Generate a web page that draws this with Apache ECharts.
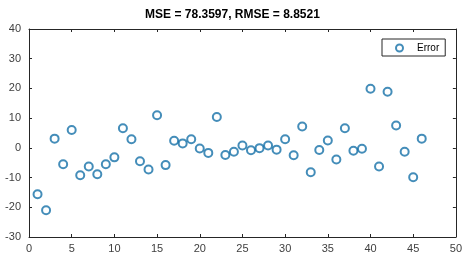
<!DOCTYPE html>
<html>
<head>
<meta charset="utf-8">
<script src="https://cdn.jsdelivr.net/npm/echarts@6/dist/echarts.min.js"></script>
<style>
  html, body { margin: 0; padding: 0; background: #fff; }
  #chart { width: 465px; height: 257px; }
</style>
</head>
<body>
<div id="chart"></div>
<script>
// sample index and error values
const sampleIdx = [1, 2, 3, 4, 5, 6, 7, 8, 9, 10, 11, 12, 13, 14, 15, 16, 17, 18, 19, 20, 21, 22, 23,
    24, 25, 26, 27, 28, 29, 30, 31, 32, 33, 34, 35, 36, 37, 38, 39, 40, 41, 42, 43, 44, 45, 46];
const errorVals = [-15.6, -21.0, 3.1, -5.5, 6.0, -9.2, -6.3, -8.9, -5.5, -3.2, 6.6, 2.9, -4.5, -7.3, 11.0, -5.8,
    2.4, 1.5, 2.9, -0.2, -1.7, 10.4, -2.4, -1.3, 0.8, -0.8, -0.1, 0.8, -0.6, 2.9, -2.5,
    7.2, -8.2, -0.7, 2.5, -3.9, 6.6, -1.0, -0.3, 19.9, -6.3, 18.9, 7.5, -1.3, -9.9, 3.1];
const titleText = 'MSE = 78.3597, RMSE = 8.8521';
const seriesName = 'Error';

let chartDom = document.querySelector('#chart');
let chart = echarts.init(chartDom);

let points = [];
for (let i = 0; i < sampleIdx.length; i++) {
    points.push([sampleIdx[i], errorVals[i]]);
}

const axisLine = { show: true, onZero: false, lineStyle: { color: '#262626', width: 1 } };
const tickStyle = { show: true, inside: true, length: 3, lineStyle: { color: '#262626' } };
const labelStyle = { color: '#404040', fontSize: 11, fontFamily: 'Liberation Sans, Arial, sans-serif' };

let option = {
    backgroundColor: '#fff',
    animation: false,
    title: {
        text: titleText,
        left: 'center',
        top: 4,
        textStyle: { fontSize: 12, fontWeight: 'bold', color: '#000', fontFamily: 'Liberation Sans, Arial, sans-serif' }
    },
    grid: { left: 29, right: 9, top: 29, bottom: 20, containLabel: false },
    legend: {
        data: [seriesName],
        left: 382,
        top: 39,
        width: 64,
        padding: [4, 6, 3, 13],
        borderColor: '#262626',
        borderWidth: 1,
        borderRadius: 0,
        backgroundColor: '#fff',
        itemWidth: 7,
        itemHeight: 7,
        itemGap: 5,
        textStyle: { fontSize: 10, color: '#000', padding: [0, 0, 0, 9], fontFamily: 'Liberation Sans, Arial, sans-serif' }
    },
    xAxis: [{
        type: 'value', min: 0, max: 50, interval: 5,
        axisLine: axisLine, axisTick: tickStyle, splitLine: { show: false },
        axisLabel: Object.assign({ margin: 6 }, labelStyle)
    }, {
        type: 'value', min: 0, max: 50, interval: 5, position: 'top',
        axisLine: axisLine, axisTick: tickStyle, splitLine: { show: false },
        axisLabel: { show: false }
    }],
    yAxis: [{
        type: 'value', min: -30, max: 40, interval: 10,
        axisLine: axisLine, axisTick: tickStyle, splitLine: { show: false },
        axisLabel: Object.assign({ margin: 8 }, labelStyle)
    }, {
        type: 'value', min: -30, max: 40, interval: 10, position: 'right',
        axisLine: axisLine, axisTick: tickStyle, splitLine: { show: false },
        axisLabel: { show: false }
    }],
    series: [{
        name: seriesName,
        type: 'scatter',
        data: points,
        symbol: 'circle',
        symbolSize: 8,
        itemStyle: { color: 'rgba(255,255,255,0)', borderColor: '#1570a8', borderWidth: 2 }
    }]
};

chart.setOption(option);
</script>
</body>
</html>
